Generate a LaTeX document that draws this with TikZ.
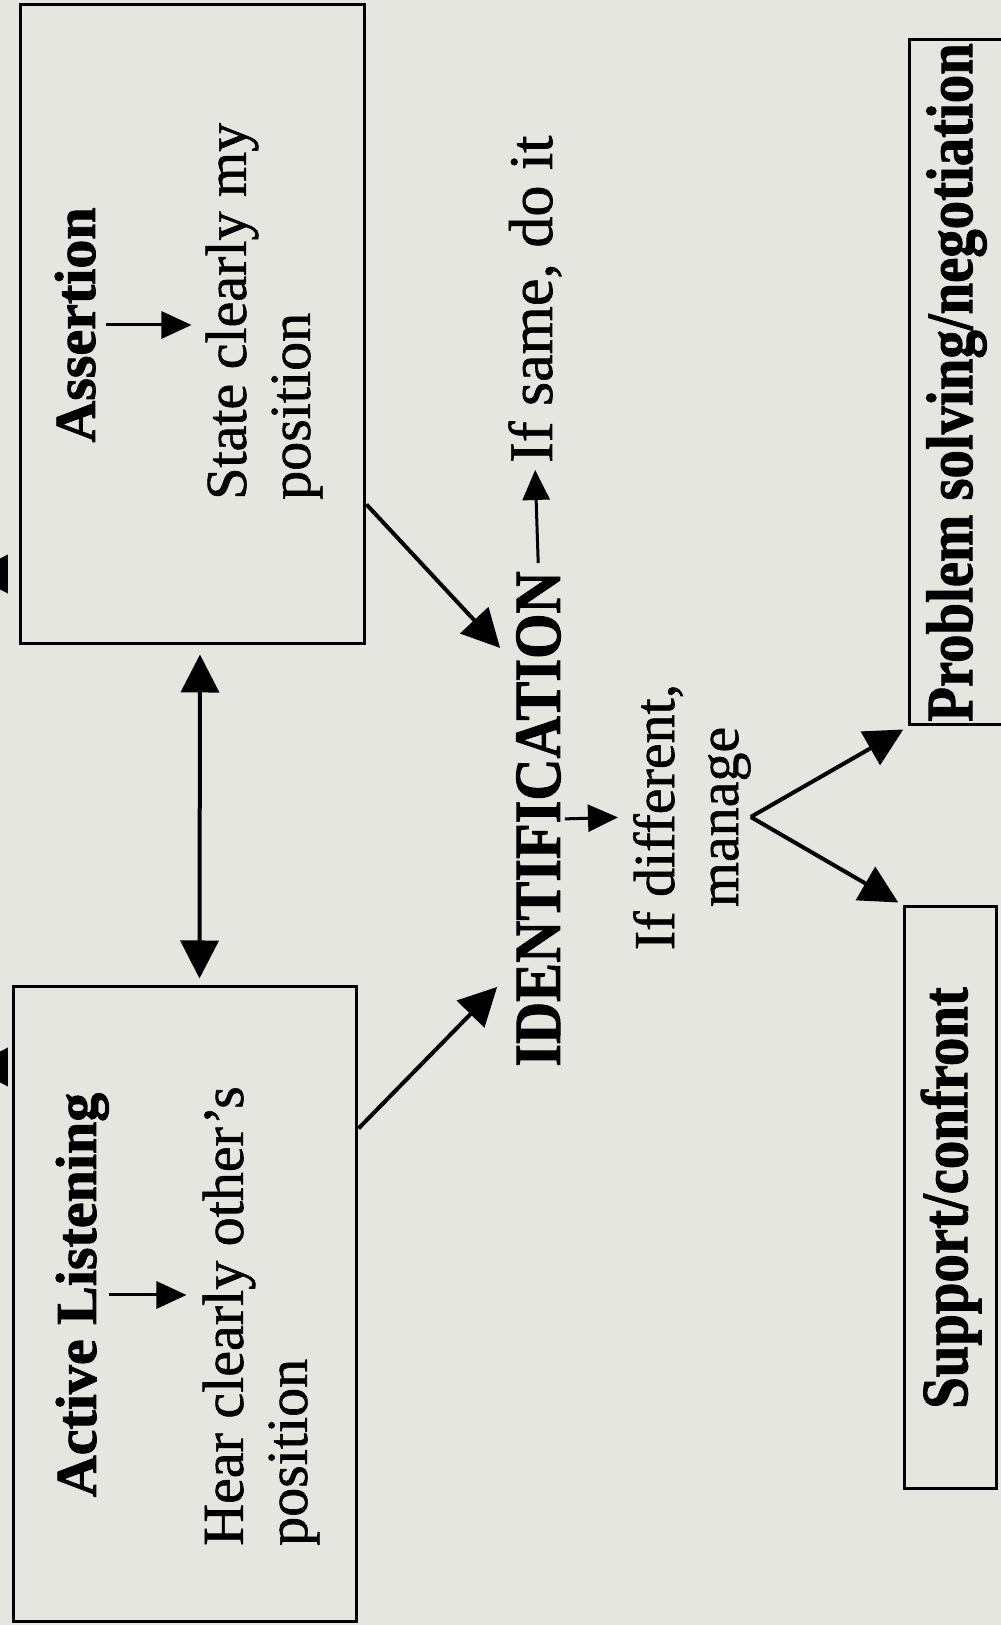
\documentclass[tikz,border=0pt]{standalone}
\usepackage{fontspec}
\setmainfont{Liberation Serif}[UprightFeatures={FakeBold=1}, BoldFeatures={FakeBold=1.5}]
\usetikzlibrary{arrows.meta}
\definecolor{paper}{RGB}{230,230,225}
\newcommand{\squeezed}[2][0.86]{\scalebox{#1}[1]{#2}}
\tikzset{
  tbox/.style={draw, line width=3pt, inner sep=0pt},
  txt/.style={inner sep=0pt, font=\fontsize{58}{64}\selectfont},
  ttl/.style={inner sep=0pt, font=\fontsize{58}{64}\selectfont\bfseries},
  bigttl/.style={inner sep=0pt, font=\fontsize{66}{72}\selectfont\bfseries},
  bigarr/.style={line width=4pt, -{Triangle[length=38pt,width=38pt]}},
  twoway/.style={line width=4pt, {Triangle[length=38pt,width=38pt]}-{Triangle[length=38pt,width=38pt]}},
  smallarr/.style={line width=3pt, -{Triangle[length=30pt,width=27pt]}}
}

\begin{document}
\begin{tikzpicture}[x=1pt, y=1pt, rotate=90, transform shape]
\useasboundingbox (0,0) rectangle (1625,1001);
\fill[paper] (0,0) rectangle (1625,1001);

\node[style=tbox, minimum width=635pt, minimum height=343pt](actl) at (320.5,815.5){};
\node[style=tbox, minimum width=639pt, minimum height=344pt](asrt) at (1300.5,808){};
\node[style=tbox, style=bigttl, minimum width=582pt, minimum height=92pt](supp) at (427,50){\squeezed{Support/confront}};
\node[style=tbox, style=bigttl, minimum width=685pt, minimum height=93pt](prob) at (1242.5,44.5){\squeezed{Problem solving/negotiation}};

\node[style=ttl, anchor=base](actlT) at (330,905){Active Listening};
\node[style=txt, align=left, anchor=west](actlD) at (79,740){Hear clearly other's\\position};
\node[style=ttl, anchor=base](asrtT) at (1300,906){Assertion};
\node[style=txt, align=left, anchor=west](asrtD) at (1125,737){State clearly my\\position};

\node[style=bigttl, anchor=base](idn) at (806,441){\squeezed[0.885]{IDENTIFICATION}};
\node[style=txt, font=\fontsize{62}{68}\selectfont, anchor=base west](same) at (1162,449){If same, do it};
\node[style=txt, align=center, anchor=north](diff) at (808,368){If different,\\manage};

\coordinate (cutL) at (558,993);
\coordinate (cutLt) at (558,1031);
\coordinate (cutR) at (1051,993);
\coordinate (cutRt) at (1051,1031);

\draw[smallarr, shorten >=16pt] (actlT.south) -- (actlT.south |- actlD.north);
\draw[smallarr, shorten <=10pt, shorten >=14pt] (asrtT.south) -- (asrtT.south |- asrtD.north);
\draw[twoway, shorten <=7pt, shorten >=9pt] ([yshift=-14pt]actl.east) -- ([yshift=-7pt]asrt.west);
\draw[bigarr] ([xshift=176pt]actl.south) -- ([xshift=-168pt,yshift=19pt]idn.north);
\draw[bigarr] ([xshift=-180pt]asrt.south) -- ([xshift=171pt,yshift=16pt]idn.north);
\draw[smallarr, shorten <=8pt, shorten >=7pt] (idn.east) -- (same.west);
\draw[smallarr, shorten <=4pt, shorten >=15pt] (idn.south) -- (diff.north);
\draw[bigarr, shorten >=6pt] (diff.south) -- (supp.north east);
\draw[bigarr, shorten >=6pt] (diff.south) -- (prob.north west);
\draw[bigarr] (cutL) -- (cutLt);
\draw[bigarr] (cutR) -- (cutRt);
\end{tikzpicture}
\end{document}
